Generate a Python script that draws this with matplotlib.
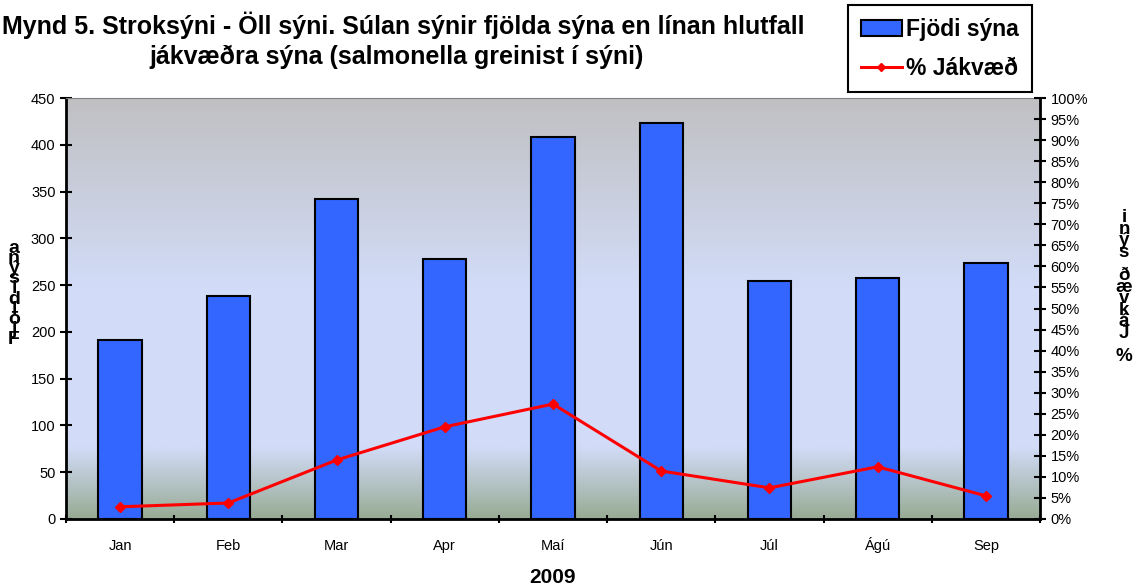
import numpy as np
import matplotlib.pyplot as plt
from matplotlib.colors import LinearSegmentedColormap
from matplotlib.lines import Line2D
from matplotlib.patches import Patch

months = ['Jan', 'Feb', 'Mar', 'Apr', 'Maí', 'Jún', 'Júl', 'Ágú', 'Sep']
fjoldi = [191, 238, 342, 278, 408, 423, 254, 258, 274]
jakvaed = [2.9, 3.8, 14.0, 21.9, 27.3, 11.4, 7.4, 12.4, 5.5]
left_ticks = list(range(0, 451, 50))
right_ticks = list(range(0, 101, 5))

plt.rcParams['font.family'] = ['Liberation Sans', 'DejaVu Sans']

fig = plt.figure(figsize=(11.4, 5.88), dpi=100)
ax = fig.add_axes([66 / 1140, 69 / 588, 974 / 1140, 421 / 588])

# background gradient (gray top -> pale blue -> greenish bottom)
cmap = LinearSegmentedColormap.from_list('bg', [
    (0.0, '#98ab94'), (0.17, '#d2dcf8'), (0.55, '#d2dcf8'), (1.0, '#c0c0c2')])
grad = np.linspace(0, 1, 256).reshape(-1, 1)
ax.imshow(grad, cmap=cmap, origin='lower', aspect='auto',
          extent=(-0.5, len(months) - 0.5, 0, 450), zorder=0)

x = np.arange(len(months))
ax.bar(x, fjoldi, width=0.4, color='#3366ff', edgecolor='black', linewidth=1.5, zorder=2)
ax.set_xlim(-0.5, len(months) - 0.5)
ax.set_ylim(0, 450)
ax.set_yticks(left_ticks)
ax.set_xticks(np.arange(-0.5, len(months), 1.0))
ax.set_xticklabels([])
ax.set_xticks(x, minor=True)
ax.set_xticklabels(months, minor=True, fontsize=10.5)
for lbl in ax.get_xticklabels(minor=True):
    lbl.set_va('baseline')
ax.tick_params(axis='x', which='major', length=6, width=1.5, direction='inout')
ax.tick_params(axis='x', which='minor', length=0, pad=22)
ax.tick_params(axis='y', length=8, width=1.5, direction='inout', labelsize=10.5)
for side in ['left', 'bottom']:
    ax.spines[side].set_linewidth(2)
ax.spines['top'].set_color('#808080')
ax.spines['right'].set_visible(False)

ax2 = ax.twinx()
ax2.plot(x, jakvaed, color='red', linewidth=2.2, marker='D', markersize=5, zorder=3)
ax2.set_ylim(0, 100)
ax2.set_yticks(right_ticks)
ax2.set_yticklabels([f'{t}%' for t in right_ticks], fontsize=10.5)
ax2.tick_params(axis='y', length=8, width=1.5, direction='inout')
ax2.spines['right'].set_linewidth(2)
for side in ['left', 'top', 'bottom']:
    ax2.spines[side].set_visible(False)

ax.set_xlabel('2009', fontsize=15, fontweight='bold', labelpad=11)

# stacked vertical axis labels
left_label = 'Fjöldi sýna'
right_label = '% Jákvæð sýni'
fig.text(14 / 1140, 1 - 294 / 588, '\n'.join(reversed(left_label.replace(' ', ''))),
         ha='center', va='center', fontsize=14, fontweight='bold', linespacing=0.47)
fig.text(1124 / 1140, 1 - 287 / 588, '\n'.join(reversed(right_label)),
         ha='center', va='center', fontsize=13.5, fontweight='bold', linespacing=0.58)

fig.text(403 / 1140, 1 - 25 / 588,
         'Mynd 5. Stroksýni - Öll sýni. Súlan sýnir fjölda sýna en línan hlutfall',
         ha='center', va='center', fontsize=18, fontweight='bold')
fig.text(397 / 1140, 1 - 57 / 588, 'jákvæðra sýna (salmonella greinist í sýni)',
         ha='center', va='center', fontsize=18, fontweight='bold')

handles = [Patch(facecolor='#3366ff', edgecolor='black', linewidth=1.5),
           Line2D([], [], color='red', linewidth=2.2, marker='D', markersize=4)]
leg = fig.legend(handles, ['Fjödi sýna', '% Jákvæð'], loc='upper left',
                 bbox_to_anchor=(848 / 1140, 1 - 5 / 588), fancybox=False,
                 framealpha=1, edgecolor='black', handlelength=1.8,
                 handletextpad=0.2, borderpad=0.55, labelspacing=0.7,
                 borderaxespad=0, prop={'weight': 'bold', 'size': 16.5})
leg.get_frame().set_linewidth(1.5)

fig.savefig('out.png', dpi=100)
